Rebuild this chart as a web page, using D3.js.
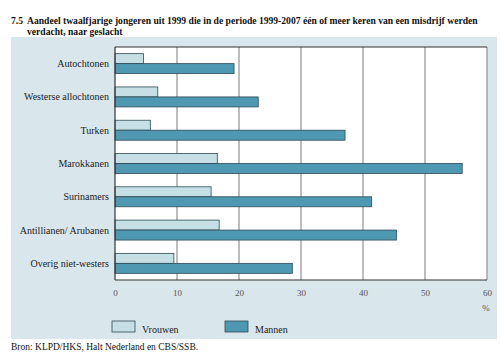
<!DOCTYPE html>
<html><head><meta charset="utf-8">
<script src="https://cdn.jsdelivr.net/npm/d3@7"></script>
<style>body{margin:0;background:#fff;} svg{display:block;font-family:"Liberation Serif",serif;}</style>
</head><body>
<svg id="c" width="501" height="355"></svg>
<script>
const categories = ["Autochtonen","Westerse allochtonen","Turken","Marokkanen","Surinamers","Antillianen/ Arubanen","Overig niet-westers"];
const vrouwen = [4.6, 6.9, 5.7, 16.5, 15.5, 16.8, 9.5];
const mannen = [19.2, 23.1, 37.1, 56.0, 41.4, 45.4, 28.6];
const xTicks = [0,10,20,30,40,50,60];
const seriesNames = ["Vrouwen","Mannen"];
const colors = ["#c6dfe5","#4f98b2"];

const svg = d3.select("#c");
// panel
svg.append("rect").attr("x",11).attr("y",37).attr("width",486).attr("height",302).attr("fill","#d9e6eb");

// title
const t = svg.append("text").attr("font-weight","bold").attr("font-size",9.6).attr("fill","#111");
t.append("tspan").attr("x",11).attr("y",24).text("7.5");
t.append("tspan").attr("x",27).attr("y",24).text("Aandeel twaalfjarige jongeren uit 1999 die in de periode 1999-2007 één of meer keren van een misdrijf werden");
svg.append("text").attr("font-weight","bold").attr("font-size",9.6).attr("fill","#111").attr("x",27).attr("y",35).text("verdacht, naar geslacht");

const L=115, R=487, T=47, B=280;
const x = d3.scaleLinear().domain([0,60]).range([L,R]);
const y = d3.scaleBand().domain(categories).range([T,B]).paddingInner(0.4).paddingOuter(0.2);

svg.append("rect").attr("x",L).attr("y",T).attr("width",R-L).attr("height",B-T).attr("fill","#fff");
// grid
svg.append("g").selectAll("line").data(xTicks.slice(1)).join("line")
  .attr("x1",d=>x(d)).attr("x2",d=>x(d)).attr("y1",T).attr("y2",B)
  .attr("stroke","#9a9a9a").attr("stroke-width",1.3);
// top border
svg.append("line").attr("x1",L).attr("x2",R).attr("y1",T).attr("y2",T).attr("stroke","#333").attr("stroke-width",1);

const sub = d3.scaleBand().domain([0,1]).range([0,y.bandwidth()]);
const g = svg.append("g");
categories.forEach((c,i)=>{
  [vrouwen[i],mannen[i]].forEach((v,j)=>{
    g.append("rect").attr("x",x(0)).attr("y",y(c)+sub(j)).attr("width",x(v)-x(0)).attr("height",sub.bandwidth())
      .attr("fill",colors[j]).attr("stroke","#2f4a55").attr("stroke-width",0.8);
  });
});
// left and bottom axes lines
svg.append("line").attr("x1",L).attr("x2",L).attr("y1",T).attr("y2",B).attr("stroke","#333").attr("stroke-width",1.2);
svg.append("line").attr("x1",L).attr("x2",R).attr("y1",B).attr("y2",B).attr("stroke","#333").attr("stroke-width",1.2);

// category labels
svg.append("g").selectAll("text").data(categories).join("text")
  .attr("x",109).attr("y",d=>y(d)+y.bandwidth()/2+3.5).attr("text-anchor","end")
  .attr("font-size",10).attr("fill","#222").text(d=>d);

// x tick labels
const xAxis = d3.axisBottom(x).tickValues(xTicks).tickSize(0).tickPadding(10);
const ax = svg.append("g").attr("transform",`translate(0,${B})`).call(xAxis);
ax.select(".domain").remove();
ax.selectAll("text").attr("font-family","Liberation Serif").attr("font-size",9).attr("fill","#555");
svg.append("text").attr("x",R-1).attr("y",311).attr("text-anchor","middle").attr("font-size",9).attr("fill","#555").text("%");

// legend
const lx=[112,225];
seriesNames.forEach((n,j)=>{
  svg.append("rect").attr("x",lx[j]).attr("y",321).attr("width",23).attr("height",11).attr("fill",colors[j]).attr("stroke","#2f4a55").attr("stroke-width",0.8);
  svg.append("text").attr("x",lx[j]+30).attr("y",333).attr("font-size",10).attr("fill","#222").text(n);
});

svg.append("text").attr("x",11).attr("y",350).attr("font-size",9.5).attr("fill","#111").text("Bron: KLPD/HKS, Halt Nederland en CBS/SSB.");
</script>
</body></html>
